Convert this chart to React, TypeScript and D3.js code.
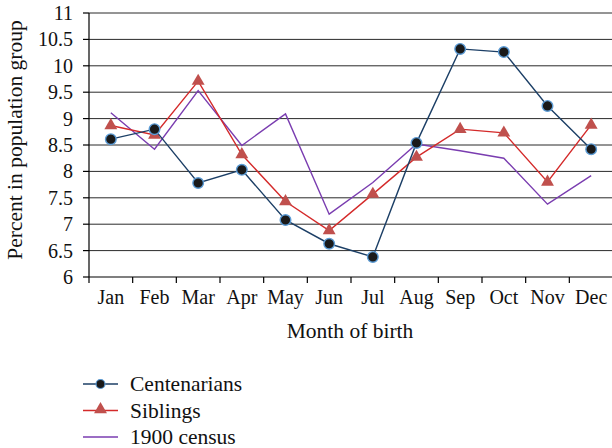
import * as d3 from 'd3'

const months = ['Jan', 'Feb', 'Mar', 'Apr', 'May', 'Jun', 'Jul', 'Aug', 'Sep', 'Oct', 'Nov', 'Dec']
const centenarians = [8.61, 8.8, 7.78, 8.03, 7.08, 6.63, 6.38, 8.54, 10.32, 10.26, 9.24, 8.42]
const siblings = [8.87, 8.69, 9.71, 8.32, 7.43, 6.88, 7.57, 8.27, 8.8, 8.73, 7.8, 8.88]
const census1900 = [9.11, 8.42, 9.53, 8.49, 9.09, 7.19, 7.79, 8.52, 8.39, 8.25, 7.38, 7.92]
const yTicks = [6, 6.5, 7, 7.5, 8, 8.5, 9, 9.5, 10, 10.5, 11]

const W = 612
const H = 448
const PLOT = { left: 89, right: 613, top: 13, bottom: 277 }
const FONT = '"Liberation Serif", "Times New Roman", serif'

const C_LINE = '#1c3f66'
const C_DOT = '#1a1a1a'
const C_DOT_RING = '#5b9bd5'
const S_LINE = '#d42a2a'
const S_MARK = '#c0504d'
const P_LINE = '#7a3db0'

export default function App() {
  const x = d3.scaleBand<string>().domain(months).range([PLOT.left, PLOT.right]).padding(0)
  const y = d3.scaleLinear().domain([6, 11]).range([PLOT.bottom, PLOT.top])
  const cx = (m: string) => (x(m) ?? 0) + x.bandwidth() / 2

  const line = d3.line<number>()
    .x((_, i) => cx(months[i]))
    .y(d => y(d))

  const tri = d3.symbol().type(d3.symbolTriangle).size(72)()
  const fmt = (v: number) => (Number.isInteger(v) ? String(v) : v.toFixed(1))

  const legend = [
    { label: 'Centenarians', kind: 'dot' },
    { label: 'Siblings', kind: 'tri' },
    { label: '1900 census', kind: 'none' },
  ]

  return (
    <svg width={W} height={H} style={{ position: 'absolute', left: 0, top: 0, background: '#fff' }}>
      {/* gridlines */}
      {yTicks.slice(1).map(t => (
        <line key={t} x1={PLOT.left} x2={PLOT.right} y1={y(t)} y2={y(t)} stroke="#2a2a2a" strokeWidth={1} />
      ))}
      {/* axes */}
      <line x1={PLOT.left} x2={PLOT.left} y1={PLOT.top} y2={PLOT.bottom} stroke="#000" strokeWidth={1.2} />
      <line x1={PLOT.left} x2={PLOT.right} y1={PLOT.bottom} y2={PLOT.bottom} stroke="#000" strokeWidth={1.2} />
      {yTicks.map(t => (
        <g key={t}>
          <line x1={PLOT.left - 6} x2={PLOT.left} y1={y(t)} y2={y(t)} stroke="#000" strokeWidth={1.2} />
          <text x={73} y={y(t) + 7} textAnchor="end" fontFamily={FONT} fontSize={20} fill="#111">{fmt(t)}</text>
        </g>
      ))}
      {months.map(m => (
        <g key={m}>
          <line x1={x(m)} x2={x(m)} y1={PLOT.bottom} y2={PLOT.bottom + 6} stroke="#000" strokeWidth={1.2} />
          <text x={cx(m)} y={304} textAnchor="middle" fontFamily={FONT} fontSize={20} fill="#111">{m}</text>
        </g>
      ))}
      <text x={(PLOT.left + PLOT.right) / 2 - 1} y={338} textAnchor="middle" fontFamily={FONT} fontSize={21.5} fill="#111">Month of birth</text>
      <text transform={`translate(22,140) rotate(-90)`} textAnchor="middle" fontFamily={FONT} fontSize={21.5} fill="#111">Percent in population group</text>

      {/* series */}
      <path d={line(census1900) ?? ''} fill="none" stroke={P_LINE} strokeWidth={1.4} />
      <path d={line(siblings) ?? ''} fill="none" stroke={S_LINE} strokeWidth={1.4} />
      {siblings.map((v, i) => (
        <path key={i} d={tri ?? ''} transform={`translate(${cx(months[i])},${y(v)})`} fill={S_MARK} />
      ))}
      <path d={line(centenarians) ?? ''} fill="none" stroke={C_LINE} strokeWidth={1.4} />
      {centenarians.map((v, i) => (
        <circle key={i} cx={cx(months[i])} cy={y(v)} r={5.3} fill={C_DOT} stroke={C_DOT_RING} strokeWidth={1.4} />
      ))}

      {/* legend */}
      {legend.map((d, i) => {
        const ly = 384 + i * 26.5
        return (
          <g key={d.label} transform={`translate(0,${ly})`}>
            <line x1={83} x2={118} y1={0} y2={0}
              stroke={d.kind === 'dot' ? C_LINE : d.kind === 'tri' ? S_LINE : P_LINE} strokeWidth={1.4} />
            {d.kind === 'dot' && <circle cx={100.5} cy={0} r={4.5} fill={C_DOT} stroke={C_DOT_RING} strokeWidth={1.2} />}
            {d.kind === 'tri' && <path d={tri ?? ''} transform="translate(100.5,-1)" fill={S_MARK} />}
            <text x={130} y={7} fontFamily={FONT} fontSize={21.5} fill="#111">{d.label}</text>
          </g>
        )
      })}
    </svg>
  )
}
